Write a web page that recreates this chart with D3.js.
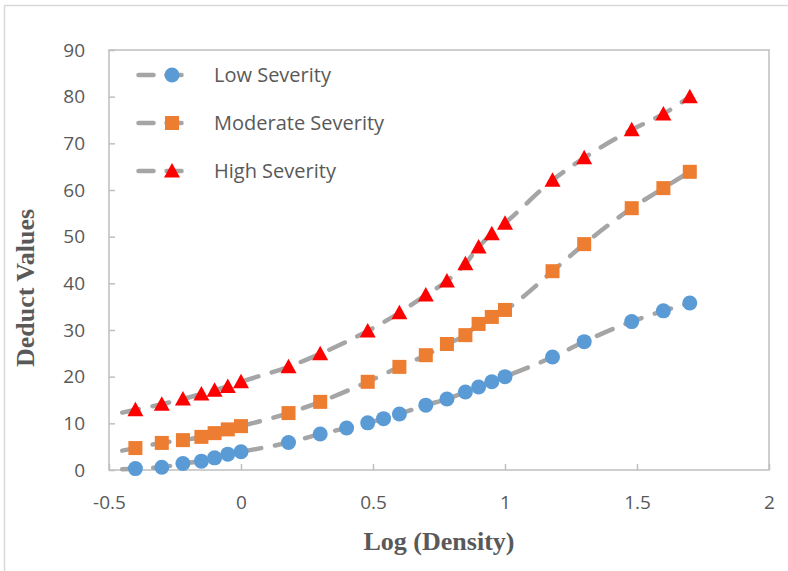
<!DOCTYPE html>
<html>
<head>
<meta charset="utf-8">
<script src="https://cdn.jsdelivr.net/npm/d3@7"></script>
<style>
  body { margin: 0; background: #fff; }
  svg { display: block; }
</style>
</head>
<body>
<div id="chart"></div>
<script>
// data
var xLow = [-0.4, -0.3, -0.22, -0.15, -0.1, -0.05, 0, 0.18, 0.3, 0.4, 0.48, 0.54, 0.6, 0.7, 0.78, 0.85, 0.9, 0.95, 1, 1.18, 1.3, 1.48, 1.6, 1.7];
var lowValues = [0.3, 0.6, 1.4, 1.9, 2.6, 3.4, 3.9, 5.9, 7.7, 9.0, 10.1, 11.0, 12.0, 13.9, 15.2, 16.7, 17.8, 18.9, 20.0, 24.2, 27.5, 31.8, 34.1, 35.8];
var xModHigh = [-0.4, -0.3, -0.22, -0.15, -0.1, -0.05, 0, 0.18, 0.3, 0.48, 0.6, 0.7, 0.78, 0.85, 0.9, 0.95, 1, 1.18, 1.3, 1.48, 1.6, 1.7];
var moderateValues = [4.7, 5.8, 6.4, 7.1, 7.9, 8.7, 9.4, 12.2, 14.6, 18.9, 22.1, 24.6, 27.0, 28.9, 31.3, 32.8, 34.3, 42.6, 48.4, 56.1, 60.4, 63.9];
var highValues = [12.9, 14.1, 15.2, 16.3, 17.1, 17.9, 18.9, 22.1, 24.9, 29.8, 33.7, 37.5, 40.5, 44.2, 47.8, 50.6, 52.9, 62.1, 66.9, 72.9, 76.3, 80.0];
var seriesNames = ["Low Severity", "Moderate Severity", "High Severity"];
var xTicks = [-0.5, 0, 0.5, 1, 1.5, 2];
var yTicks = [0, 10, 20, 30, 40, 50, 60, 70, 80, 90];

var W = 788, H = 571;
var margin = {left: 109, right: 19, top: 50, bottom: 101};

var series = [
  {name: seriesNames[0], xs: xLow, ys: lowValues, shape: "circle", color: "#5b9bd5"},
  {name: seriesNames[1], xs: xModHigh, ys: moderateValues, shape: "square", color: "#ed7d31"},
  {name: seriesNames[2], xs: xModHigh, ys: highValues, shape: "triangle", color: "#ff0000"}
];

var svg = d3.select("#chart").append("svg")
  .attr("width", W)
  .attr("height", H);

// outer chart border
svg.append("rect")
  .attr("x", 4.5).attr("y", 5.5)
  .attr("width", W + 10).attr("height", H + 10)
  .attr("fill", "none")
  .attr("stroke", "#d9d9d9")
  .attr("stroke-width", 1.5);

var x = d3.scaleLinear().domain([-0.5, 2]).range([margin.left, W - margin.right]);
var y = d3.scaleLinear().domain([0, 90]).range([H - margin.bottom, margin.top]);

// plot area frame
svg.append("rect")
  .attr("x", x(-0.5)).attr("y", y(90))
  .attr("width", x(2) - x(-0.5)).attr("height", y(0) - y(90))
  .attr("fill", "none")
  .attr("stroke", "#bfbfbf")
  .attr("stroke-width", 1.5);

var yAxis = svg.append("g")
  .attr("transform", "translate(" + x(-0.5) + ",0)")
  .call(d3.axisLeft(y).tickValues(yTicks).tickSize(-6).tickPadding(24));
var xAxis = svg.append("g")
  .attr("transform", "translate(0," + y(0) + ")")
  .call(d3.axisBottom(x).tickValues(xTicks).tickSize(-6).tickPadding(26)
    .tickFormat(function(d) { return String(d); }));

[xAxis, yAxis].forEach(function(ax) {
  ax.select(".domain").remove();
  ax.selectAll(".tick line").attr("stroke", "#bfbfbf").attr("stroke-width", 1.5);
  ax.selectAll(".tick text")
    .attr("fill", "#595959")
    .attr("font-family", "'Open Sans', sans-serif")
    .attr("font-size", 19);
});

// axis titles
svg.append("text")
  .attr("x", (x(-0.5) + x(2)) / 2)
  .attr("y", 550)
  .attr("text-anchor", "middle")
  .attr("font-family", "'Liberation Serif', 'Times New Roman', serif")
  .attr("font-weight", "bold")
  .attr("font-size", 26)
  .attr("fill", "#595959")
  .text("Log (Density)");

svg.append("text")
  .attr("transform", "translate(34," + 288 + ") rotate(-90)")
  .attr("text-anchor", "middle")
  .attr("font-family", "'Liberation Serif', 'Times New Roman', serif")
  .attr("font-weight", "bold")
  .attr("font-size", 26)
  .attr("fill", "#595959")
  .text("Deduct Values");

function drawMarker(g, shape, color) {
  if (shape === "circle") {
    g.append("circle").attr("r", 7.5).attr("fill", color);
  } else if (shape === "square") {
    g.append("rect").attr("x", -7).attr("y", -7).attr("width", 14).attr("height", 14).attr("fill", color);
  } else {
    g.append("path").attr("d", "M0,-8L8,6.5L-8,6.5Z").attr("fill", color);
  }
}

var line = d3.line()
  .curve(d3.curveMonotoneX)
  .x(function(d) { return x(d[0]); })
  .y(function(d) { return y(d[1]); });

// dashed trend lines through the points, with a short backward extension
series.forEach(function(s) {
  var pts = s.xs.map(function(v, i) { return [v, s.ys[i]]; });
  var slope = (pts[1][1] - pts[0][1]) / (pts[1][0] - pts[0][0]);
  var x0 = -0.45;
  pts.unshift([x0, pts[0][1] + slope * (x0 - pts[0][0])]);
  svg.append("path")
    .datum(pts)
    .attr("d", line)
    .attr("fill", "none")
    .attr("stroke", "#a5a5a5")
    .attr("stroke-width", 4.5)
    .attr("stroke-linecap", "round")
    .attr("stroke-dasharray", "17,14");
});

series.forEach(function(s) {
  svg.append("g").selectAll("g")
    .data(s.xs.map(function(v, i) { return [v, s.ys[i]]; }))
    .enter()
    .append("g")
    .attr("transform", function(d) { return "translate(" + x(d[0]) + "," + y(d[1]) + ")"; })
    .each(function() { drawMarker(d3.select(this), s.shape, s.color); });
});

// legend
var legend = svg.append("g").attr("class", "legend");
var legendY = [75, 123, 171];
series.forEach(function(s, i) {
  var row = legend.append("g").attr("transform", "translate(0," + legendY[i] + ")");
  row.append("line")
    .attr("x1", 138.5).attr("x2", 191)
    .attr("stroke", "#a5a5a5")
    .attr("stroke-width", 4.5)
    .attr("stroke-linecap", "round")
    .attr("stroke-dasharray", "15,13");
  var m = row.append("g").attr("transform", "translate(172,0)");
  drawMarker(m, s.shape, s.color);
  row.append("text")
    .attr("x", 214)
    .attr("dy", "0.35em")
    .attr("font-family", "'Open Sans', sans-serif")
    .attr("font-size", 20)
    .attr("fill", "#595959")
    .text(s.name);
});
</script>
</body>
</html>
